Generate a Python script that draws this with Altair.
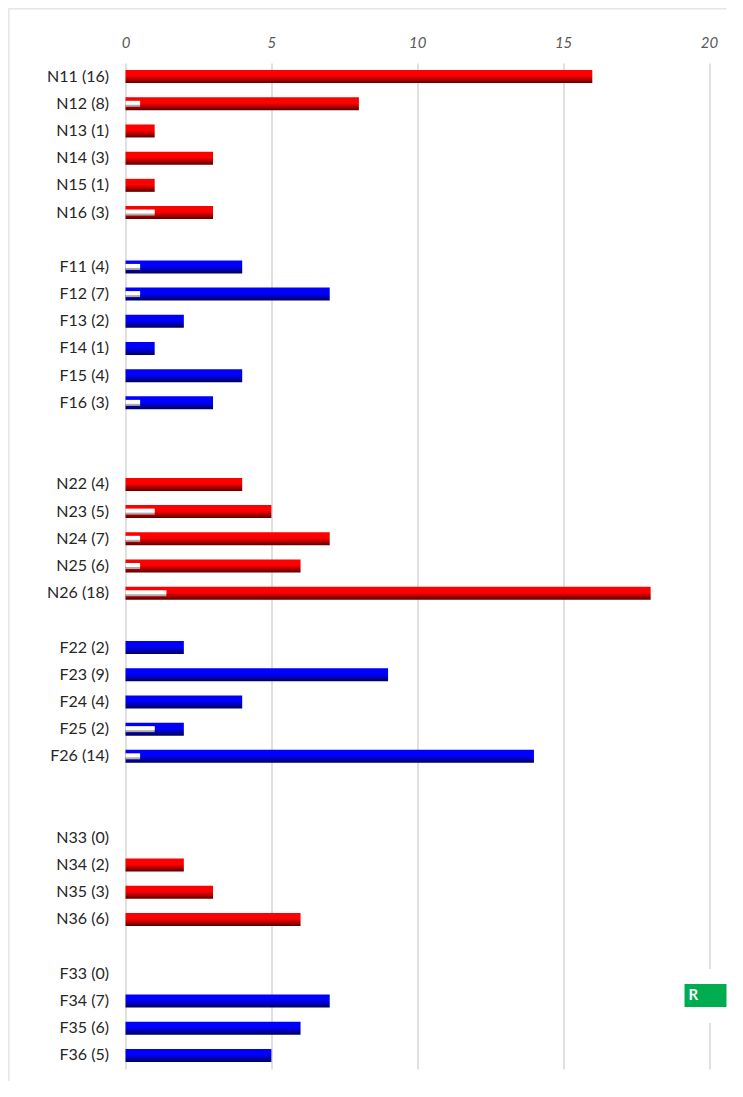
import altair as alt
import pandas as pd

labels = ["N11 (16)", "N12 (8)", "N13 (1)", "N14 (3)", "N15 (1)", "N16 (3)", " ",
          "F11 (4)", "F12 (7)", "F13 (2)", "F14 (1)", "F15 (4)", "F16 (3)", "  ", "   ",
          "N22 (4)", "N23 (5)", "N24 (7)", "N25 (6)", "N26 (18)", "    ",
          "F22 (2)", "F23 (9)", "F24 (4)", "F25 (2)", "F26 (14)", "     ", "      ",
          "N33 (0)", "N34 (2)", "N35 (3)", "N36 (6)", "       ",
          "F33 (0)", "F34 (7)", "F35 (6)", "F36 (5)"]
values = [16, 8, 1, 3, 1, 3, None,
          4, 7, 2, 1, 4, 3, None, None,
          4, 5, 7, 6, 18, None,
          2, 9, 4, 2, 14, None, None,
          0, 2, 3, 6, None,
          0, 7, 6, 5]
inner = [0, 0.5, 0, 0, 0, 1, None,
         0.5, 0.5, 0, 0, 0, 0.5, None, None,
         0, 1, 0.5, 0.5, 1.4, None,
         0, 0, 0, 1, 0.5, None, None,
         0, 0, 0, 0, None,
         0, 0, 0, 0]
ticks = [0, 5, 10, 15, 20]

df = pd.DataFrame({"label": labels, "value": values, "inner": inner})
df = df[df["value"].notna()]
df["group"] = df["label"].str[0]
red = df[df["group"] == "N"]
blue = df[df["group"] == "F"]
white = df[df["inner"] > 0]

x_scale = alt.Scale(domain=[0, 20], nice=False, zero=True)
y_scale = alt.Scale(domain=labels, paddingInner=0, paddingOuter=0)
x_axis = alt.Axis(orient="top", values=ticks, format="d", grid=True, gridColor="#e0e0e0",
                  gridWidth=2, domain=False, ticks=False, labelFont="Lato", labelFontSize=15,
                  labelFontStyle="italic", labelColor="#595959", labelPadding=13, title=None,
                  labelFlush=False)
y_axis = alt.Axis(domain=False, ticks=False, labelFont="Lato", labelFontSize=16,
                  labelColor="#262626", labelPadding=17, title=None, labelLimit=100)


def gradient(top, bottom):
    return alt.Gradient(gradient="linear", x1=0, x2=0, y1=0, y2=1,
                        stops=[alt.GradientStop(offset=0, color=top),
                               alt.GradientStop(offset=0.45, color=top),
                               alt.GradientStop(offset=1, color=bottom)])


def bars(data, **mark):
    return alt.Chart(data).mark_bar(cornerRadius=0, **mark).encode(
        x=alt.X("value:Q", scale=x_scale, axis=x_axis),
        y=alt.Y("label:N", scale=y_scale, sort=labels, axis=y_axis),
    )


def insets(data, **mark):
    return alt.Chart(data).mark_bar(**mark).encode(
        x=alt.X("inner:Q", scale=x_scale, axis=x_axis),
        y=alt.Y("label:N", scale=y_scale, sort=labels, axis=y_axis),
    )


one = pd.DataFrame({"a": [0]})


def box(color, x, x2, y, y2):
    return alt.Chart(one).mark_rect(color=color).encode(
        x=alt.value(x), x2=alt.value(x2), y=alt.value(y), y2=alt.value(y2))


frame_left = box("#e6e6e6", -117.5, -116, -55, 1019)
frame_top = box("#e6e6e6", -117.5, 601, -55, -53.5)
mask = box("#ffffff", 550, 601, 906, 960)
badge = box("#00ac50", 559, 601, 921, 944)
badge_text = alt.Chart(pd.DataFrame({"t": ["R"]})).mark_text(
    color="#ffffff", font="Lato", fontSize=15, fontWeight="bold", align="left", baseline="middle"
).encode(x=alt.value(563), y=alt.value(932), text="t:N")

chart = alt.layer(
    bars(red, size=13, color=gradient("#ff0000", "#5a0000")),
    bars(blue, size=13, color=gradient("#0000ff", "#00005a")),
    insets(white, size=5, yOffset=0.5, color="#b5a8a8"),
    insets(white, size=4, yOffset=-1, color="#ffffff"),
    frame_left, frame_top, mask, badge, badge_text,
).properties(
    width=583.5, height=1006, autosize="none",
    padding={"left": 117.5, "top": 55, "right": 26, "bottom": 12},
).configure_view(stroke=None)

chart.save("out.html", embed_options={"renderer": "svg", "actions": False})
